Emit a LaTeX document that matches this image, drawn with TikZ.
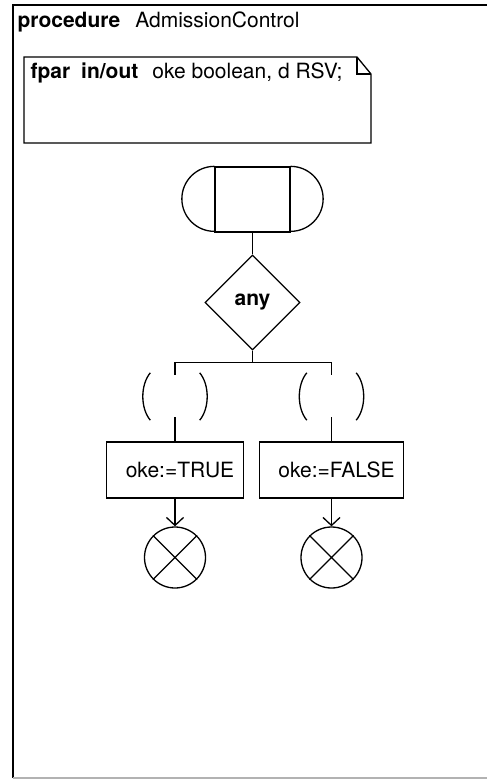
\documentclass[tikz,border=0pt]{standalone}
\usepackage{fontspec}
\setmainfont{TeX Gyre Heros}
\usetikzlibrary{arrows.meta, shapes.geometric}

\tikzset{
  sdl/.style={draw, line width=1.3pt, inner sep=0pt},
  startsym/.style={sdl, minimum width=75pt, minimum height=65pt},
  decision/.style={sdl, diamond, minimum width=95pt, minimum height=95pt},
  answer/.style={minimum width=65pt, minimum height=42pt, inner sep=0pt},
  task/.style={sdl, inner xsep=9pt, minimum height=56pt},
  stopsym/.style={sdl, circle, minimum size=61pt},
  flow/.style={line width=1.3pt},
  flowarrow/.style={flow, -{Straight Barb[length=8pt,width=17pt,line width=1.3pt]}}
}

\begin{document}
\begin{tikzpicture}[x=1pt, y=-1pt, font=\fontsize{21}{25}\selectfont]
\useasboundingbox (0,0) rectangle (487,780);

\draw[line width=2pt] (487,5) -- (12.5,5) -- (12.5,778);
\draw[line width=1.5pt, gray!60] (12.5,778) -- (487,778);

\node[anchor=base west] (title) at (14,27) {\textbf{procedure}\hspace{15pt}AdmissionControl};

\draw[line width=1.3pt] (24,57) -- (357,57) -- (371,74) -- (371,143) -- (24,143) -- cycle;
\draw[line width=1.3pt] (357,57) -- (357,74) -- (371,74);
\node[anchor=base west] (fpar) at (27,78) {\textbf{fpar}\hspace{11pt}\textbf{in/out}\hspace{14pt}oke boolean, d RSV;};

\node[startsym] (start) at (252.5,199.5) {};
\draw[flow] (start.north west) arc[start angle=-90, end angle=-270, radius=32.5];
\draw[flow] (start.north east) arc[start angle=-90, end angle=90, radius=32.5];

\node[decision] (dec) at (252.5,302.5) {\textbf{any}};

\node[answer] (a1) at (175,396) {};
\node[answer] (a2) at (331.5,396) {};
\foreach \a in {a1,a2}{
  \draw[flow] ([shift={(8,-2)}]\a.north west) .. controls +(-10,12) and +(-10,-12) .. ([shift={(8,3)}]\a.south west);
  \draw[flow] ([shift={(-8,-2)}]\a.north east) .. controls +(10,12) and +(10,-12) .. ([shift={(-8,3)}]\a.south east);
}

\node[task] (t1) at (175,470) {\hspace*{10pt}oke:=TRUE};
\node[task] (t2) at (331.5,470) {\hspace*{10pt}oke:=FALSE};

\node[stopsym] (s1) at (175,557.5) {};
\node[stopsym] (s2) at (331.5,557.5) {};
\foreach \s in {s1,s2}{
  \draw[flow] (\s.north west) -- (\s.south east) (\s.north east) -- (\s.south west);
}

\draw[flow] (start.south) -- (dec.north);
\draw[flow] (dec.south) -- ++(0,12) coordinate (fork);
\draw[flow] (a1.north) |- (fork) -| (a2.north);
\draw[flow] (a1.south) -- (t1.north);
\draw[flow] (a2.south) -- (t2.north);
\draw[flowarrow] (t1.south) -- (s1.north);
\draw[flowarrow] (t2.south) -- (s2.north);
\end{tikzpicture}
\end{document}
